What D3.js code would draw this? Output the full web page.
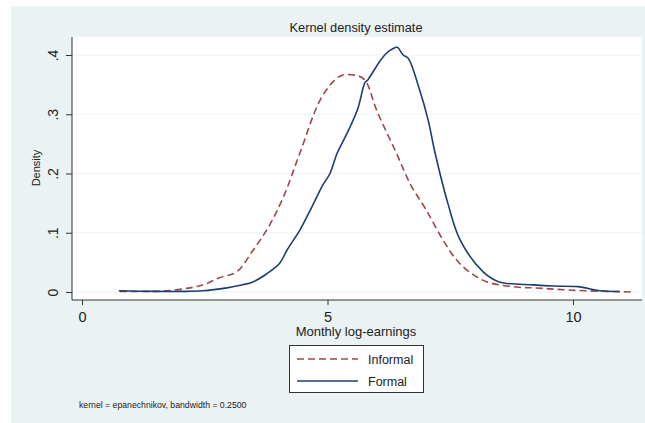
<!DOCTYPE html>
<html lang="en">
<head>
<meta charset="utf-8"/>
<title>Kernel density estimate</title>
<script src="https://d3js.org/d3.v7.min.js"></script>
<style>
  body { margin: 0; background: #fff; }
  svg { font-family: "Liberation Sans", Arial, sans-serif; }
  .grid line { stroke: #eaf2f3; stroke-width: 1; }
  .axis path, .axis line { stroke: #333; }
</style>
</head>
<body>
<div id="chart"></div>
<script>
// density curves: [log-earnings, density]
var formal = [
  [0.75, 0.002], [1.5, 0.001], [2.0, 0.001], [2.46, 0.002], [2.95, 0.007],
  [3.2, 0.011], [3.48, 0.017], [3.75, 0.03], [4.03, 0.049], [4.17, 0.07],
  [4.44, 0.105], [4.6, 0.13], [4.75, 0.155], [4.9, 0.18], [5.05, 0.2],
  [5.2, 0.235], [5.4, 0.268], [5.62, 0.31], [5.76, 0.353], [5.82, 0.358],
  [6.07, 0.39], [6.2, 0.403], [6.32, 0.41], [6.42, 0.413], [6.54, 0.40],
  [6.64, 0.395], [6.88, 0.34], [7.05, 0.29], [7.19, 0.235], [7.45, 0.15],
  [7.7, 0.088], [8.17, 0.034], [8.5, 0.017], [9.2, 0.012], [9.6, 0.01],
  [10.1, 0.009], [10.55, 0.002], [10.95, 0.001]
];
var informal = [
  [0.77, 0.001], [1.3, 0.001], [1.73, 0.002], [2.2, 0.007], [2.5, 0.013],
  [2.8, 0.024], [3.15, 0.034], [3.48, 0.07], [3.8, 0.11], [4.1, 0.16],
  [4.44, 0.235], [4.85, 0.324], [5.15, 0.358], [5.3, 0.366], [5.55, 0.366],
  [5.7, 0.362], [5.8, 0.353], [6.0, 0.307], [6.4, 0.235], [6.7, 0.18],
  [7.0, 0.14], [7.35, 0.088], [7.6, 0.057], [7.84, 0.037], [8.25, 0.017],
  [8.9, 0.008], [9.2, 0.007], [10.0, 0.003], [11.2, 0.0]
];
var xTicks = [0, 5, 10];
var yTicks = [0, 0.1, 0.2, 0.3, 0.4];
var yTickLabels = ["0", ".1", ".2", ".3", ".4"];

var width = 645, height = 423;
var m = {left: 72, right: 3, top: 37, bottom: 123};

var svg = d3.select("#chart").append("svg")
  .attr("width", width)
  .attr("height", height);

// outer graph region
svg.append("rect")
  .attr("x", 11).attr("y", 6)
  .attr("width", 634).attr("height", 417)
  .attr("fill", "#eaf2f3");

// plot region
svg.append("rect")
  .attr("x", m.left).attr("y", m.top)
  .attr("width", width - m.left - m.right)
  .attr("height", height - m.top - m.bottom)
  .attr("fill", "#fff");

var x = d3.scaleLinear()
  .domain([0, 10])
  .range([82, 573]);

var y = d3.scaleLinear()
  .domain([0, 0.4])
  .range([292, 55]);

// gridlines
svg.append("g")
  .attr("class", "grid")
  .selectAll("line")
  .data(yTicks)
  .enter().append("line")
    .attr("x1", m.left)
    .attr("x2", width - m.right)
    .attr("y1", function(d) { return y(d); })
    .attr("y2", function(d) { return y(d); });

// axes
var xAxis = svg.append("g")
  .attr("class", "axis")
  .attr("transform", "translate(0," + (height - m.bottom) + ")")
  .call(d3.axisBottom(x).tickValues(xTicks).tickSize(5).tickSizeOuter(0).tickPadding(6.5));
xAxis.select(".domain").attr("d", "M" + m.left + ",0H" + (width - m.right));
xAxis.selectAll("text")
  .attr("font-size", 14.5)
  .attr("fill", "#222");

var yAxis = svg.append("g")
  .attr("class", "axis")
  .attr("transform", "translate(" + m.left + ",0)")
  .call(d3.axisLeft(y).tickValues(yTicks).tickSize(6).tickSizeOuter(0)
    .tickFormat(function(d, i) { return yTickLabels[i]; }));
yAxis.select(".domain").attr("d", "M0," + m.top + "V" + (height - m.bottom));
yAxis.selectAll(".tick text")
  .attr("font-size", 14)
  .attr("fill", "#222")
  .attr("text-anchor", "middle")
  .attr("x", 0).attr("y", 0).attr("dy", 0)
  .attr("transform", "translate(-14,0) rotate(-90)");

var line = d3.line()
  .x(function(d) { return x(d[0]); })
  .y(function(d) { return y(d[1]); })
  .curve(d3.curveCatmullRom.alpha(0.5));

svg.append("path")
  .datum(informal)
  .attr("fill", "none")
  .attr("stroke", "#a0454a")
  .attr("stroke-width", 1.6)
  .attr("stroke-dasharray", "7,4")
  .attr("d", line);

svg.append("path")
  .datum(formal)
  .attr("fill", "none")
  .attr("stroke", "#1a3f6f")
  .attr("stroke-width", 1.6)
  .attr("d", line);

// titles
svg.append("text")
  .attr("x", 356).attr("y", 32)
  .attr("text-anchor", "middle")
  .attr("font-size", 12.8)
  .attr("fill", "#222")
  .text("Kernel density estimate");

svg.append("text")
  .attr("transform", "translate(40,168) rotate(-90)")
  .attr("text-anchor", "middle")
  .attr("font-size", 11)
  .attr("fill", "#222")
  .text("Density");

svg.append("text")
  .attr("x", 356).attr("y", 336)
  .attr("text-anchor", "middle")
  .attr("font-size", 13)
  .attr("fill", "#222")
  .text("Monthly log-earnings");

// legend
var legend = svg.append("g");
legend.append("rect")
  .attr("x", 289.5).attr("y", 345.5)
  .attr("width", 134).attr("height", 47)
  .attr("fill", "#fff")
  .attr("stroke", "#333");

var keys = [
  {name: "Informal", color: "#a0454a", dash: "7,4"},
  {name: "Formal", color: "#1a3f6f", dash: null}
];
var item = legend.selectAll("g")
  .data(keys)
  .enter().append("g")
    .attr("transform", function(d, i) { return "translate(0," + (359 + i * 22) + ")"; });
item.append("line")
  .attr("x1", 297).attr("x2", 358)
  .attr("stroke", function(d) { return d.color; })
  .attr("stroke-width", 1.6)
  .attr("stroke-dasharray", function(d) { return d.dash; });
item.append("text")
  .attr("x", 368).attr("y", 4.5)
  .attr("font-size", 12.5)
  .attr("fill", "#222")
  .text(function(d) { return d.name; });

svg.append("text")
  .attr("x", 79).attr("y", 408)
  .attr("font-size", 8.7)
  .attr("fill", "#222")
  .text("kernel = epanechnikov, bandwidth = 0.2500");
</script>
</body>
</html>
